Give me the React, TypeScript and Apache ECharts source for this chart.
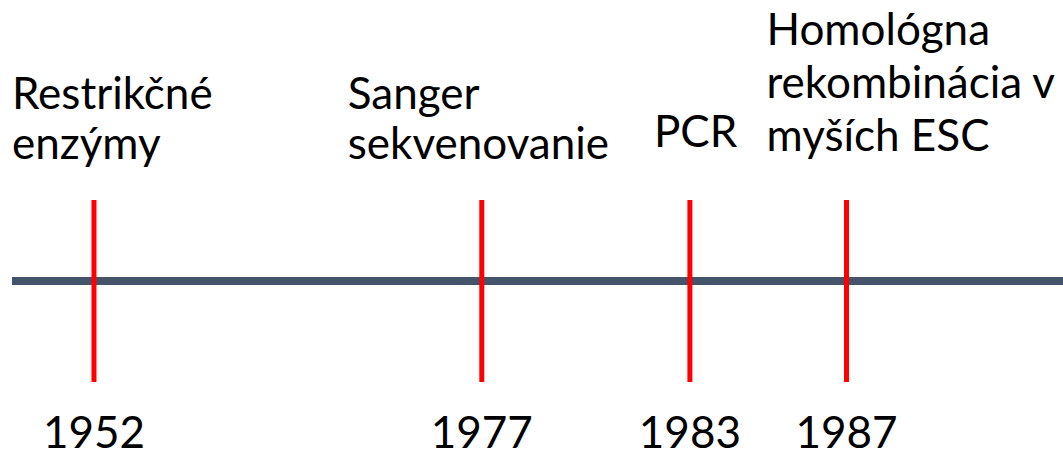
import React, { useEffect, useRef } from "react";
import * as echarts from "echarts";

// Event years (shown under the timeline)
const years = ["1952", "1977", "1983", "1987"];
// Event names (shown above the timeline)
const events = [
  "Restrikčné\nenzýmy",
  "Sanger\nsekvenovanie",
  "PCR",
  "Homológna\nrekombinácia v\nmyších ESC",
];
// Place of each event along the (non-linear, slide-style) timeline, in % of its length
const timelinePos = [7.8, 44.7, 64.5, 79.4];

// layout of the event captions relative to their marker (styling, not data)
const captionDx = [-82, -134, -36, -80];
const captionDy = [114, 114, 126, 121];
const captionLineHeight = [50, 50, 50, 53];

const FONT = "Lato, 'Noto Sans', sans-serif";

export default function App() {
  const ref = useRef<HTMLDivElement>(null);
  useEffect(() => {
    if (!ref.current) return;
    const chart = echarts.init(ref.current, undefined, { renderer: "svg" });
    chart.setOption({
      animation: false,
      backgroundColor: "#ffffff",
      grid: {
        left: 12,
        right: 0,
        top: 0,
        bottom: 171,
        containLabel: false,
        outerBoundsMode: "none",
      },
      xAxis: {
        type: "value",
        min: 0,
        max: 100,
        axisLine: {
          show: true,
          onZero: false,
          lineStyle: { color: "#44546A", width: 8, cap: "butt" },
        },
        axisTick: { show: false },
        splitLine: { show: false },
        axisLabel: {
          show: true,
          customValues: timelinePos,
          formatter: (v: number) => {
            const i = timelinePos.indexOf(v);
            return i >= 0 ? years[i] : "";
          },
          color: "#000000",
          fontFamily: FONT,
          fontSize: 44,
          lineHeight: 40,
          margin: 130,
          showMinLabel: true,
          showMaxLabel: true,
        },
      },
      yAxis: { type: "value", min: 0, max: 1, show: false },
      series: [
        {
          type: "custom",
          clip: false,
          data: timelinePos.map((p, i) => [p, 0, i]),
          renderItem: (params: any, api: any) => {
            const i = params.dataIndex;
            const c = api.coord([api.value(0), 0]);
            return {
              type: "group",
              children: [
                {
                  type: "line",
                  shape: { x1: c[0], y1: c[1] - 81, x2: c[0], y2: c[1] + 101 },
                  style: { stroke: "#FF0000", lineWidth: 5 },
                },
                {
                  type: "text",
                  x: c[0] + captionDx[i],
                  y: c[1] - captionDy[i],
                  style: {
                    text: events[i],
                    fill: "#000000",
                    font: `44px ${FONT}`,
                    align: "left",
                    verticalAlign: "bottom",
                    lineHeight: captionLineHeight[i],
                  },
                },
              ],
            };
          },
        },
      ],
    });
    return () => chart.dispose();
  }, []);
  return (
    <div
      ref={ref}
      style={{ position: "fixed", left: 0, top: 0, width: 1063, height: 452, background: "#fff" }}
    />
  );
}
